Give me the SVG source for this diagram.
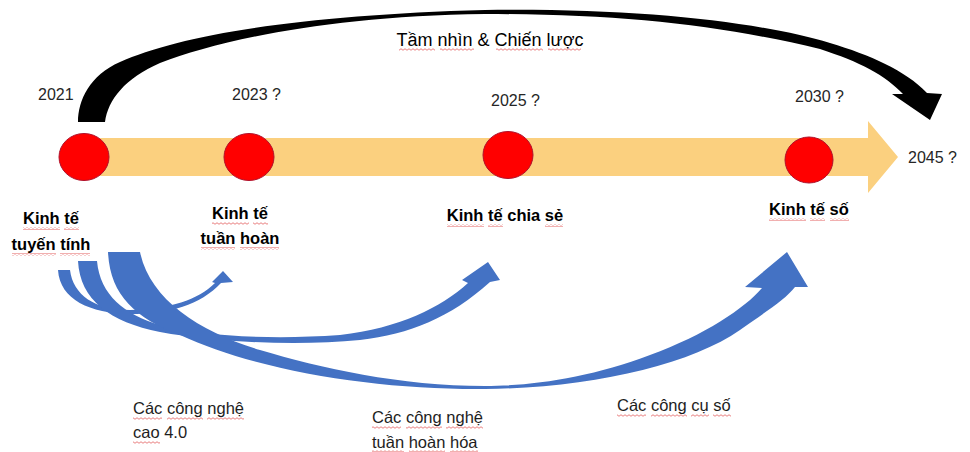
<svg xmlns="http://www.w3.org/2000/svg" width="970" height="452" viewBox="0 0 970 452">
<style>
  .t { font-family: "Liberation Sans", Arial, sans-serif; }
  .yr { font-size: 16px; fill: #262626; }
  .lb { font-size: 16.5px; font-weight: bold; fill: #000; text-anchor: middle; }
  .bl { font-size: 16.5px; fill: #1e1e1e; }
  .ti { font-size: 18px; fill: #000; }
  .dot { fill: #ff0000; stroke: #b0102a; stroke-width: 1; }
  .blue { fill: #4472c4; }
  .sq { fill: url(#wavy); }
</style>
<defs>
  <pattern id="wavy" width="4" height="3" patternUnits="userSpaceOnUse">
    <path d="M0,1.5 Q1,0 2,1.5 T4,1.5" fill="none" stroke="#e04848" stroke-width="0.7"/>
  </pattern>
</defs>
<rect width="970" height="452" fill="#ffffff"/>

<g id="connectors">
  <path id="timeline" d="M84,138 L868,138 L868,121 L898,157 L868,193 L868,176 L84,176 Z" fill="#fbd07f"/>
  <path id="vision-arc" fill="#000000" d="M78,122 C78,100 90,75 120,62 C180,35 300,15 485,10 C640,8 760,22 830,43 C870,55 905,70 927,93 L942,94 L930,120 L892,94 L903,94 C885,75 860,62 820,49 C720,25 620,14 485,14 C330,16 220,40 160,63 C125,78 108,100 105,122 Z"/>
  <path id="arrow-circular" class="blue" d="M58,270 C60,300 90,313 130,314 C170,314 200,305 221,283 L233,282 L223,271 L212,282 L215,283 C198,300 170,309 130,310 C95,310 73,295 70,270 Z"/>
  <path id="arrow-sharing" class="blue" d="M78,261 C80,300 110,322 160,332 C220,343 300,346 360,340 C410,334 450,318 490,282 L500,280 L488,262 L462,280 L468,283 C440,308 400,328 340,335 C270,340 200,336 160,325 C125,315 100,295 97,261 Z"/>
  <path id="arrow-digital" class="blue" d="M108,252 C110,295 135,318 180,335 C260,372 380,390 485,389 C590,388 690,365 740,330 C765,312 785,300 795,287 L808,287 L787,252 L745,287 L762,288 C745,308 705,335 650,355 C590,378 530,386 485,386 C400,386 320,368 260,350 C200,332 150,300 140,252 Z"/>
</g>

<g id="title" class="t">
  <text class="ti" x="490" y="46" text-anchor="middle">Tầm nhìn &amp; Chiến lược</text>
  <rect class="sq" x="399" y="48" width="36" height="3"/>
  <rect class="sq" x="440" y="48" width="34" height="3"/>
  <rect class="sq" x="496" y="48" width="47" height="3"/>
  <rect class="sq" x="548" y="48" width="33" height="3"/>
</g>

<g id="node-2021" class="t">
  <ellipse class="dot" cx="84" cy="157" rx="25" ry="23.5"/>
  <text class="yr" x="38" y="100">2021</text>
  <text class="lb" x="51" y="224">Kinh tế</text>
  <text class="lb" x="51" y="250">tuyến tính</text>
  <rect class="sq" x="23" y="227" width="37" height="3"/>
  <rect class="sq" x="64" y="227" width="15" height="3"/>
  <rect class="sq" x="12" y="253" width="44" height="3"/>
  <rect class="sq" x="60" y="253" width="30" height="3"/>
</g>

<g id="node-2023" class="t">
  <ellipse class="dot" cx="249" cy="157" rx="25" ry="23.5"/>
  <text class="yr" x="232" y="100">2023 ?</text>
  <text class="lb" x="240" y="219">Kinh tế</text>
  <text class="lb" x="240" y="244">tuần hoàn</text>
  <rect class="sq" x="212" y="222" width="37" height="3"/>
  <rect class="sq" x="253" y="222" width="15" height="3"/>
  <rect class="sq" x="201" y="247" width="34" height="3"/>
  <rect class="sq" x="240" y="247" width="39" height="3"/>
</g>

<g id="node-2025" class="t">
  <ellipse class="dot" cx="508" cy="155" rx="25" ry="23.5"/>
  <text class="yr" x="491" y="106">2025 ?</text>
  <text class="lb" x="505" y="221">Kinh tế chia sẻ</text>
  <rect class="sq" x="447" y="224" width="37" height="3"/>
  <rect class="sq" x="488" y="224" width="15" height="3"/>
  <rect class="sq" x="545" y="224" width="18" height="3"/>
</g>

<g id="node-2030" class="t">
  <ellipse class="dot" cx="809" cy="160" rx="24" ry="23"/>
  <text class="yr" x="795" y="102">2030 ?</text>
  <text class="lb" x="809" y="215">Kinh tế số</text>
  <rect class="sq" x="769" y="218" width="37" height="3"/>
  <rect class="sq" x="810" y="218" width="15" height="3"/>
  <rect class="sq" x="830" y="218" width="19" height="3"/>
</g>

<g id="node-2045" class="t">
  <text class="yr" x="908" y="163">2045 ?</text>
</g>

<g id="arrow-labels" class="t">
  <text class="bl" x="133" y="414">Các công nghệ</text>
  <text class="bl" x="133" y="438">cao 4.0</text>
  <rect class="sq" x="133" y="417" width="29" height="3"/>
  <rect class="sq" x="167" y="417" width="36" height="3"/>
  <rect class="sq" x="207" y="417" width="37" height="3"/>
  <rect class="sq" x="133" y="441" width="27" height="3"/>

  <text class="bl" x="372" y="423">Các công nghệ</text>
  <text class="bl" x="372" y="448">tuần hoàn hóa</text>
  <rect class="sq" x="372" y="426" width="29" height="3"/>
  <rect class="sq" x="406" y="426" width="36" height="3"/>
  <rect class="sq" x="446" y="426" width="37" height="3"/>
  <rect class="sq" x="372" y="450" width="32" height="2"/>
  <rect class="sq" x="409" y="450" width="36" height="2"/>
  <rect class="sq" x="450" y="450" width="28" height="2"/>

  <text class="bl" x="617" y="411">Các công cụ số</text>
  <rect class="sq" x="617" y="414" width="29" height="3"/>
  <rect class="sq" x="651" y="414" width="36" height="3"/>
  <rect class="sq" x="691" y="414" width="18" height="3"/>
  <rect class="sq" x="713" y="414" width="18" height="3"/>
</g>
</svg>
